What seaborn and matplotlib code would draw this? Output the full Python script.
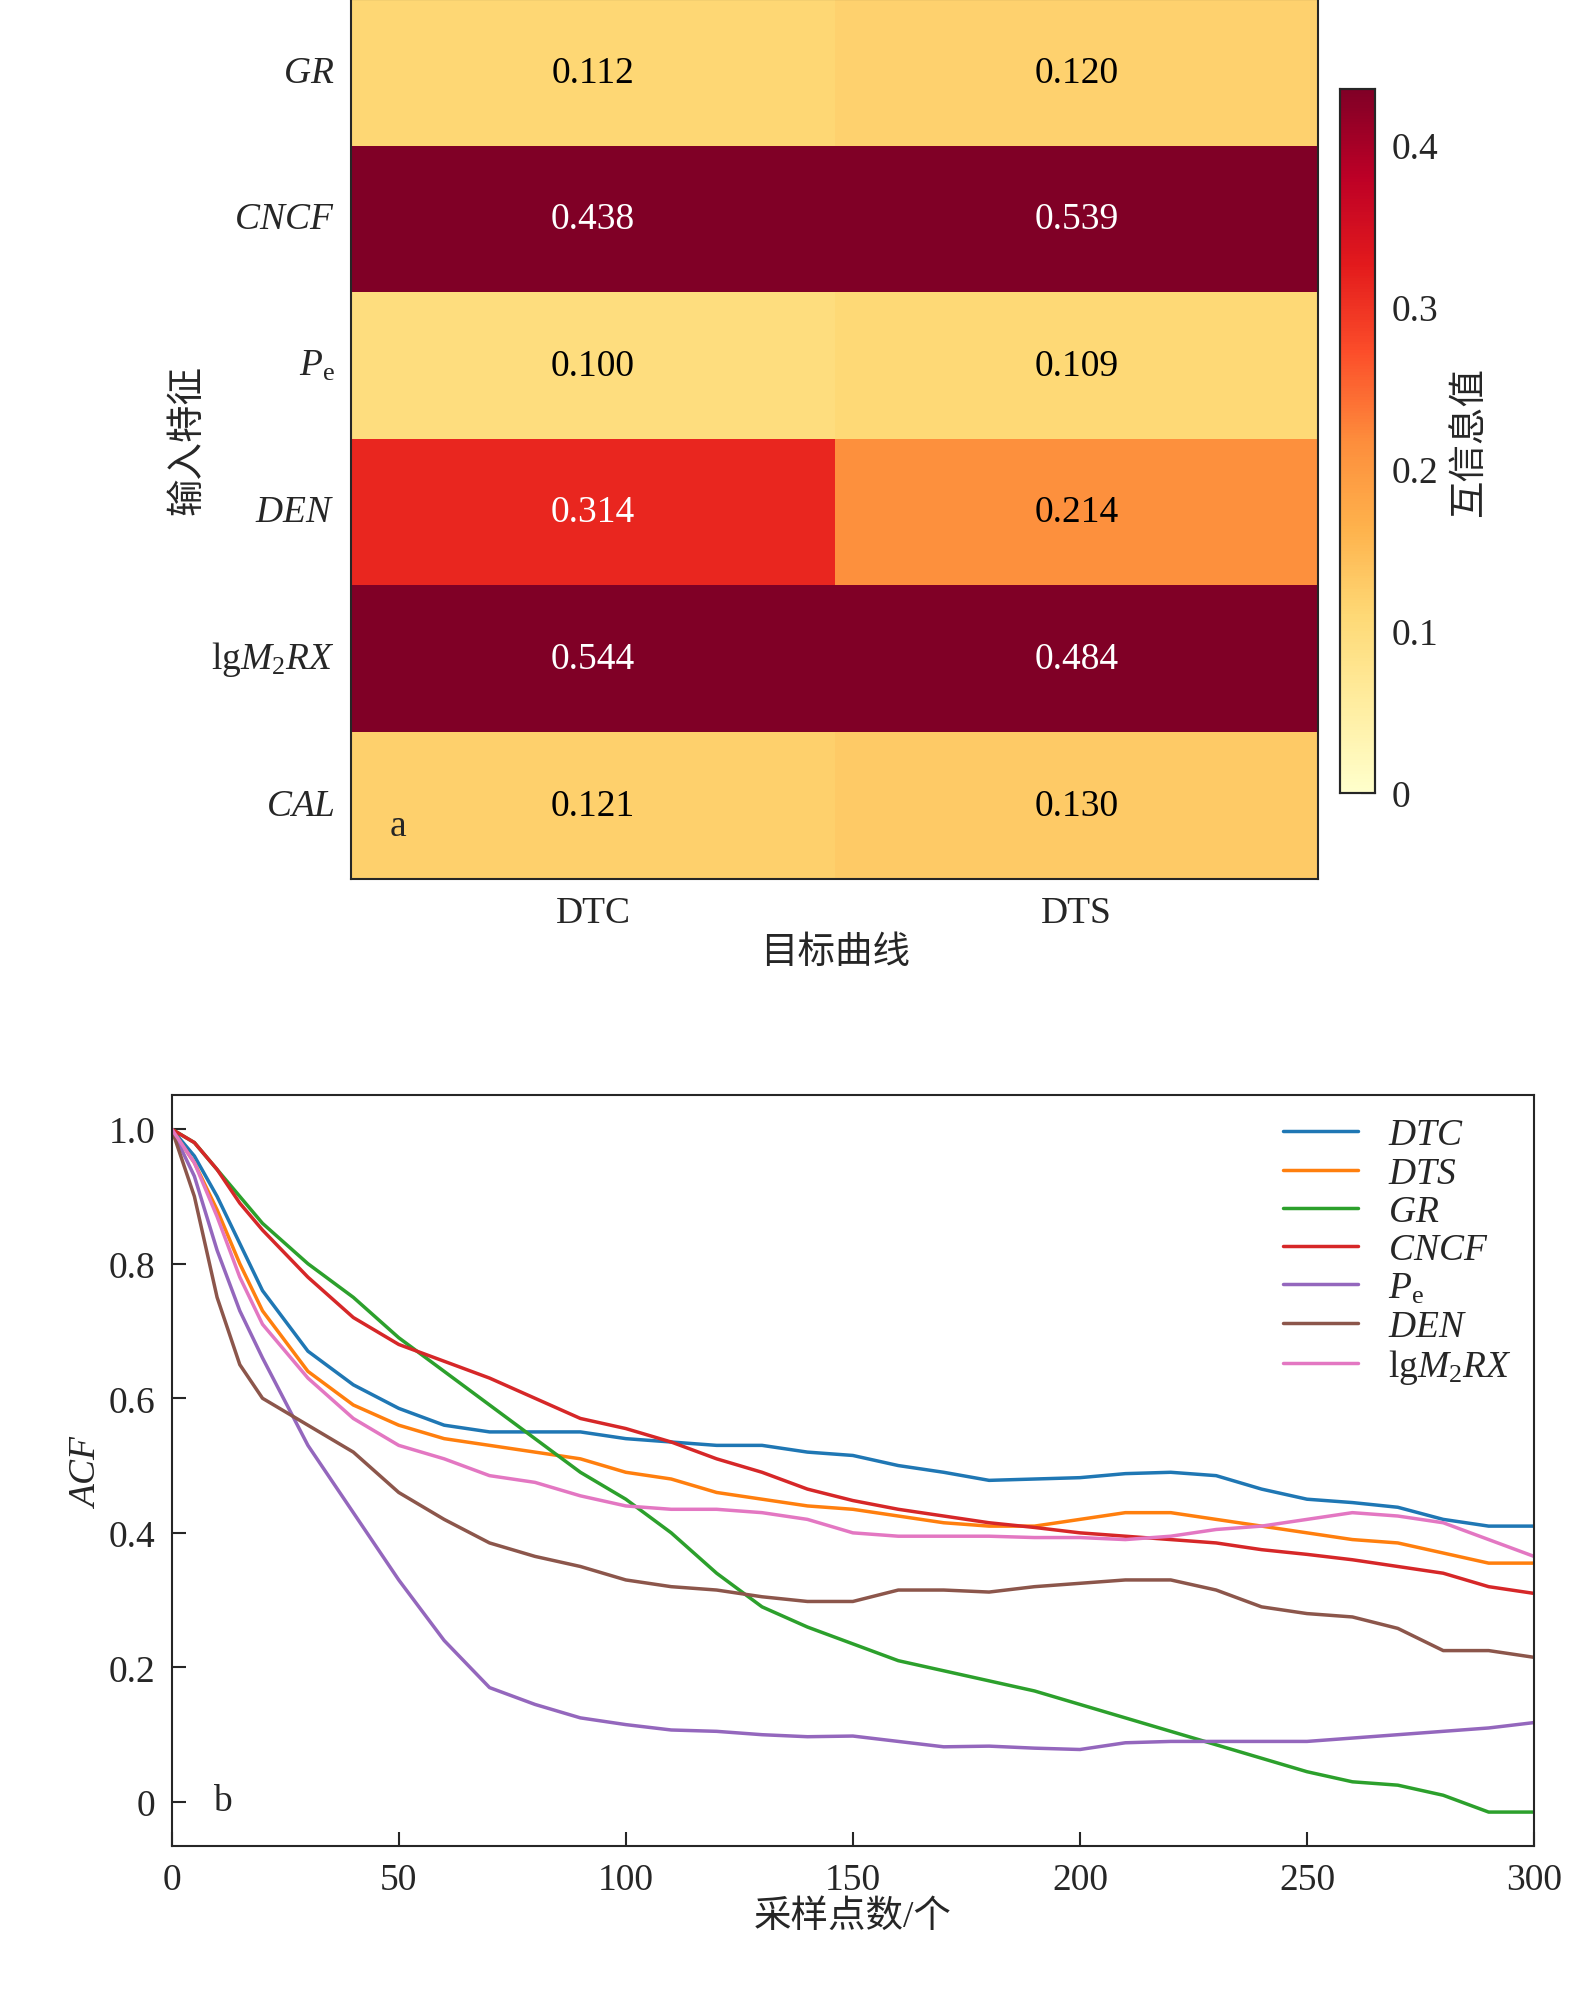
import numpy as np
import pandas as pd
import matplotlib.pyplot as plt
import seaborn as sns

sns.set_style('ticks')
plt.rcParams['font.family'] = ['Liberation Serif', 'Noto Sans CJK SC']
plt.rcParams['mathtext.fontset'] = 'custom'
plt.rcParams['mathtext.rm'] = 'Liberation Serif'
plt.rcParams['mathtext.it'] = 'Liberation Serif:italic'
plt.rcParams['axes.unicode_minus'] = False

# ---- data ----
features = [r'$GR$', r'$CNCF$', r'$P_{\rm e}$', r'$DEN$', r'lg$M_2RX$', r'$CAL$']
targets = ['DTC', 'DTS']
mi_dtc = [0.112, 0.438, 0.100, 0.314, 0.544, 0.121]
mi_dts = [0.120, 0.539, 0.109, 0.214, 0.484, 0.130]

lag = [0, 5, 10, 15, 20, 30, 40, 50, 60, 70, 80, 90, 100, 110, 120, 130, 140,
       150, 160, 170, 180, 190, 200, 210, 220, 230, 240, 250, 260, 270, 280, 290, 300]
acf_dtc = [1.0, 0.96, 0.90, 0.83, 0.76, 0.67, 0.62, 0.585, 0.56, 0.55, 0.55, 0.55, 0.54, 0.535, 0.53, 0.53, 0.52,
           0.515, 0.50, 0.49, 0.478, 0.48, 0.482, 0.488, 0.49, 0.485, 0.465, 0.45, 0.445, 0.438, 0.42, 0.41, 0.41]
acf_dts = [1.0, 0.95, 0.88, 0.80, 0.73, 0.64, 0.59, 0.56, 0.54, 0.53, 0.52, 0.51, 0.49, 0.48, 0.46, 0.45, 0.44,
           0.435, 0.425, 0.415, 0.41, 0.41, 0.42, 0.43, 0.43, 0.42, 0.41, 0.40, 0.39, 0.385, 0.37, 0.355, 0.355]
acf_gr = [1.0, 0.98, 0.94, 0.90, 0.86, 0.80, 0.75, 0.69, 0.64, 0.59, 0.54, 0.49, 0.45, 0.40, 0.34, 0.29, 0.26,
          0.235, 0.21, 0.195, 0.18, 0.165, 0.145, 0.125, 0.105, 0.085, 0.065, 0.045, 0.03, 0.025, 0.01, -0.015, -0.015]
acf_cncf = [1.0, 0.98, 0.94, 0.89, 0.85, 0.78, 0.72, 0.68, 0.655, 0.63, 0.60, 0.57, 0.555, 0.535, 0.51, 0.49, 0.465,
            0.448, 0.435, 0.425, 0.415, 0.408, 0.40, 0.395, 0.39, 0.385, 0.375, 0.368, 0.36, 0.35, 0.34, 0.32, 0.31]
acf_pe = [1.0, 0.93, 0.82, 0.73, 0.66, 0.53, 0.43, 0.33, 0.24, 0.17, 0.145, 0.125, 0.115, 0.107, 0.105, 0.10, 0.097,
          0.098, 0.09, 0.082, 0.083, 0.08, 0.078, 0.088, 0.09, 0.09, 0.09, 0.09, 0.095, 0.10, 0.105, 0.11, 0.118]
acf_den = [1.0, 0.90, 0.75, 0.65, 0.60, 0.56, 0.52, 0.46, 0.42, 0.385, 0.365, 0.35, 0.33, 0.32, 0.315, 0.305, 0.298,
           0.298, 0.315, 0.315, 0.312, 0.32, 0.325, 0.33, 0.33, 0.315, 0.29, 0.28, 0.275, 0.258, 0.225, 0.225, 0.215]
acf_lgm2rx = [1.0, 0.95, 0.87, 0.78, 0.71, 0.63, 0.57, 0.53, 0.51, 0.485, 0.475, 0.455, 0.44, 0.435, 0.435, 0.43, 0.42,
              0.40, 0.395, 0.395, 0.395, 0.393, 0.393, 0.39, 0.395, 0.405, 0.41, 0.42, 0.43, 0.425, 0.415, 0.39, 0.365]
acf_labels = [r'$DTC$', r'$DTS$', r'$GR$', r'$CNCF$', r'$P_{\rm e}$', r'$DEN$', r'lg$M_2RX$']
acf_series = [acf_dtc, acf_dts, acf_gr, acf_cncf, acf_pe, acf_den, acf_lgm2rx]

fig = plt.figure(figsize=(15.75, 19.9), dpi=100)
FS = 27

# ---- panel a ----
ax1 = fig.add_axes([0.223, 0.558, 0.614, 0.442])
cax = fig.add_axes([0.851, 0.601, 0.022, 0.354])
mi = pd.DataFrame({'DTC': mi_dtc, 'DTS': mi_dts}, index=features)
sns.heatmap(mi, ax=ax1, cbar_ax=cax, cmap='YlOrRd', vmin=0, vmax=0.435,
            annot=True, fmt='.3f', annot_kws={'fontsize': FS})
for t, v in zip(ax1.texts, np.array([mi_dtc, mi_dts]).T.ravel()):
    t.set_color('white' if v > 0.3 else 'black')
ax1.tick_params(axis='both', direction='in', length=10, width=1.5, labelsize=FS, pad=12)
ax1.set_yticklabels(features, rotation=0)
ax1.set_xlabel('目标曲线', fontsize=FS)
ax1.set_ylabel('输入特征', fontsize=FS)
for s in ax1.spines.values():
    s.set_visible(True)
    s.set_linewidth(1.5)
ax1.text(0.04, 0.06, 'a', transform=ax1.transAxes, fontsize=FS, ha='left', va='center')
cax.tick_params(direction='in', length=10, width=1.5, labelsize=FS, pad=12)
cax.set_yticks([0, 0.1, 0.2, 0.3, 0.4])
cax.set_yticklabels(['0', '0.1', '0.2', '0.3', '0.4'])
cax.set_ylabel('互信息值', fontsize=FS, labelpad=10)
for s in cax.spines.values():
    s.set_visible(True)
    s.set_linewidth(1.5)

# ---- panel b ----
ax2 = fig.add_axes([0.109, 0.072, 0.865, 0.377])
colors = sns.color_palette('tab10', 7)
for lab, y, c in zip(acf_labels, acf_series, colors):
    sns.lineplot(x=lag, y=y, ax=ax2, color=c, lw=2.5, label=lab)
ax2.set_xlim(0, 300)
ax2.set_ylim(-0.065, 1.05)
ax2.set_xticks(range(0, 301, 50))
ax2.set_yticks([0, 0.2, 0.4, 0.6, 0.8, 1.0])
ax2.set_yticklabels(['0', '0.2', '0.4', '0.6', '0.8', '1.0'])
ax2.tick_params(direction='in', length=10, width=1.5, labelsize=FS, pad=12)
ax2.set_xlabel('采样点数/个', fontsize=FS, labelpad=2)
ax2.set_ylabel(r'$ACF$', fontsize=FS)
for s in ax2.spines.values():
    s.set_linewidth(1.5)
ax2.text(0.03, 0.06, 'b', transform=ax2.transAxes, fontsize=FS, ha='left', va='center')
ax2.legend(loc='upper right', frameon=False, fontsize=FS, handlelength=2.0,
           labelspacing=0.1, borderaxespad=0.2)

fig.savefig('out.png', dpi=100)
